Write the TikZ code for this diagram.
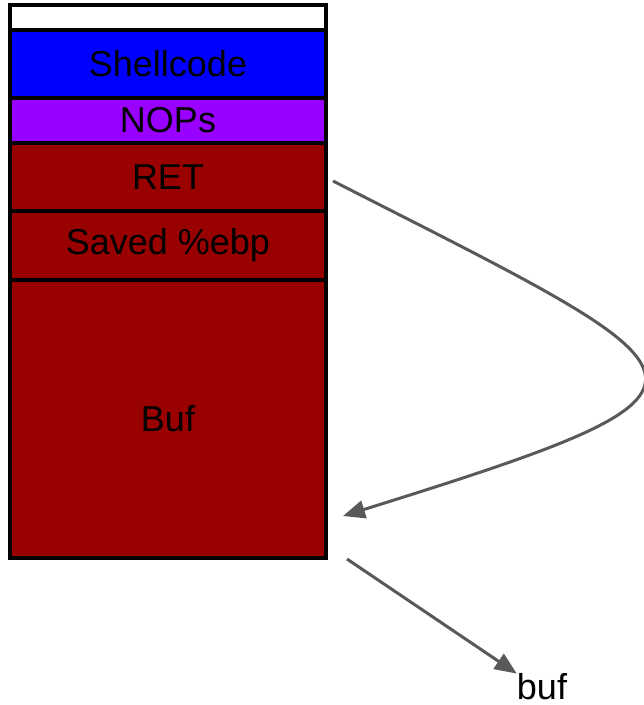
\documentclass[tikz,border=0pt]{standalone}
\usepackage{fontspec}
\setmainfont{Liberation Sans}
\usetikzlibrary{positioning,arrows.meta}
\definecolor{shellblue}{HTML}{0000FF}
\definecolor{noppurple}{HTML}{9900FF}
\definecolor{stackred}{HTML}{990000}
\definecolor{arrowgray}{HTML}{595959}

\begin{document}
\begin{tikzpicture}[x=1pt,y=-1pt,
    cell/.style={draw=black, line width=4pt, minimum width=316pt,
      inner sep=0pt, outer sep=0pt, font=\fontsize{36}{40}\selectfont},
    ptr/.style={draw=arrowgray, line width=3pt,
      -{Triangle[length=22pt,width=18pt]}}]
    \useasboundingbox (0,0) rectangle (644,705);
    % the stack, top to bottom
    \node[cell, fill=white, minimum height=25pt, anchor=north west] (top) at (10,5) {};
    \node[cell, fill=shellblue, minimum height=68pt, below=0pt of top] (shell) {Shellcode};
    \node[cell, fill=noppurple, minimum height=45pt, below=0pt of shell] (nops) {NOPs};
    \node[cell, fill=stackred, minimum height=68pt, below=0pt of nops] (ret) {RET};
    \node[cell, fill=stackred, minimum height=69pt, below=0pt of ret] (ebp) {Saved \%ebp};
    \node[cell, fill=stackred, minimum height=278pt, below=0pt of ebp] (buf) {Buf};
    %% return address points back into the buffer
    \coordinate (retout) at (333,181);
    \coordinate (bufin) at (343,516);
    \draw[ptr] (retout) .. controls (725,381) and (763,385) .. (bufin);
    % buf pointer
    \node[inner sep=0pt, font=\fontsize{36}{40}\selectfont] (buflabel) at (542,687) {buf};
    \coordinate (bufptr) at (347,559);
    \draw[ptr] (bufptr) -- (buflabel.north west);
\end{tikzpicture}
\end{document}
